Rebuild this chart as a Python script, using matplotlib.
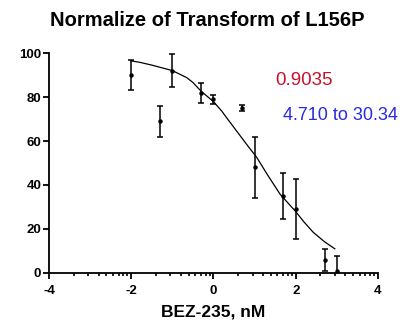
import numpy as np
import matplotlib
matplotlib.use('Agg')
import matplotlib.pyplot as plt

plt.rcParams['font.family'] = ['Liberation Sans', 'DejaVu Sans']
plt.rcParams['axes.unicode_minus'] = False

# measured points: log dose, mean, error (SD)
dose = [-2.0, -1.3, -1.0, -0.3, 0.0, 0.7, 1.0, 1.7, 2.0, 2.7, 3.0]
mean = [90.0, 69.0, 92.0, 82.0, 79.0, 75.0, 48.0, 35.0, 29.0, 6.0, 1.0]
err = [7.0, 7.0, 7.5, 4.5, 2.0, 1.5, 14.0, 10.5, 13.5, 5.0, 6.7]

# fitted curve
curve_x = [-2.0, -1.8, -1.5, -1.0, -0.65, -0.5, -0.3, 0.0, 0.2, 0.35, 0.6, 0.85,
           1.05, 1.3, 1.62, 2.0, 2.2, 2.43, 2.7, 2.95]
curve_y = [96.4, 95.8, 94.5, 92.0, 88.8, 86.6, 82.6, 77.9, 73.6, 69.8, 63.6, 57.4,
           52.6, 45.0, 35.8, 27.9, 23.2, 18.4, 14.2, 11.0]

r_squared = "0.9035"
ci_text = "4.710 to 30.34"

fig = plt.figure(figsize=(4.06, 3.26), dpi=100)
ax = fig.add_axes([0.1207, 0.1626, 0.8103, 0.6748])

ax.plot(curve_x, curve_y, color='black', lw=0.9)
ax.errorbar(dose, mean, yerr=err, fmt='o', color='black', ms=2.2,
            elinewidth=1.1, capsize=2.3, capthick=1.1, clip_on=True)

ax.set_xlim(-4, 4)
ax.set_ylim(0, 100)
ax.set_xticks([-4, -2, 0, 2, 4])
ax.set_yticks([0, 20, 40, 60, 80, 100])
# log-style minor ticks inside each 2-unit step
minor = []
for start in [-4, -2, 0, 2]:
    for k in range(2, 10):
        minor.append(start + 2 * np.log10(k))
ax.xaxis.set_minor_locator(matplotlib.ticker.FixedLocator(minor))

for side in ['top', 'right']:
    ax.spines[side].set_visible(False)
for side in ['left', 'bottom']:
    ax.spines[side].set_linewidth(1.3)
ax.tick_params(axis='both', which='major', direction='out', length=4, width=1.3,
               labelsize=9.5, pad=1.5)
ax.tick_params(axis='x', which='major', pad=5)
ax.tick_params(axis='x', which='minor', direction='out', length=2.5, width=1.2,
               bottom=True, color='black')
for lab in ax.get_xticklabels() + ax.get_yticklabels():
    lab.set_fontweight('bold')

ax.set_xlabel('BEZ-235, nM', fontsize=12.5, fontweight='bold', labelpad=5)
fig.text(0.51, 0.936, 'Normalize of Transform of L156P', ha='center', va='center',
         fontsize=14.5, fontweight='bold')

fig.text(0.677, 0.752, r_squared, color='#c8102e', fontsize=13.5, va='center')
fig.text(0.696, 0.647, ci_text, color='#2a2ae0', fontsize=13, va='center')

fig.savefig('out.png', dpi=100)
